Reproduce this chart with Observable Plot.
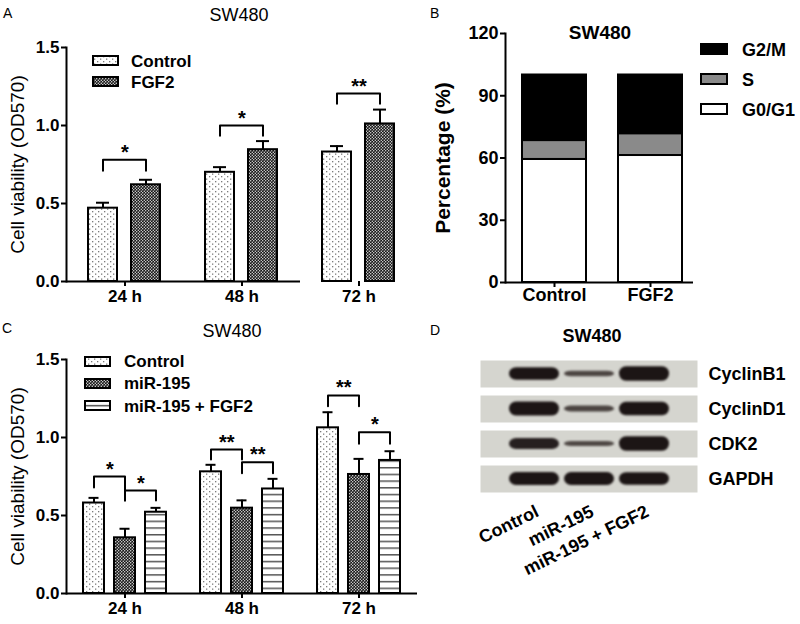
<!DOCTYPE html>
<html><head><meta charset="utf-8">
<script src="https://cdn.jsdelivr.net/npm/d3@7"></script>
<script src="https://cdn.jsdelivr.net/npm/@observablehq/plot@0.6"></script>
<style>
body{margin:0;background:#fff;}
#fig{position:relative;width:800px;height:624px;overflow:hidden;background:#fff;font-family:"Liberation Sans",Arial,Helvetica,sans-serif;}
#fig svg{overflow:visible;}
#pD g[aria-label="bar"] rect{filter:blur(1.1px);}
</style></head>
<body><div id="fig">
<svg width="0" height="0" style="position:absolute;left:0;top:0">
<defs>
<pattern id="pDots" patternUnits="userSpaceOnUse" width="6" height="5">
<rect width="6" height="5" fill="#fff"/>
<rect x="1" y="1" width="1.3" height="1.3" fill="#7a7a7a"/>
<rect x="4" y="3.5" width="1.3" height="1.3" fill="#7a7a7a"/>
</pattern>
<pattern id="pCheck" patternUnits="userSpaceOnUse" width="3" height="3">
<rect width="3" height="3" fill="#161616"/>
<circle cx="0.75" cy="0.75" r="0.65" fill="#fff"/>
<circle cx="2.25" cy="2.25" r="0.65" fill="#fff"/>
</pattern>
<pattern id="pLines" patternUnits="userSpaceOnUse" width="4" height="6.7">
<rect width="4" height="6.7" fill="#fff"/>
<rect x="0" y="3" width="4" height="1.3" fill="#3a3a3a"/>
</pattern>
</defs>
</svg>
</div>
<script>
// ---------- data ----------
const times = ["24 h", "48 h", "72 h"];

// Panel A
const groupsA = ["Control", "FGF2"];
const controlA = [0.47, 0.70, 0.83];
const controlAErr = [0.035, 0.033, 0.038];
const fgf2A = [0.62, 0.845, 1.01];
const fgf2AErr = [0.032, 0.055, 0.092];
const bracketTimeA = ["24 h", "48 h", "72 h"];
const bracketTopA = [0.78, 1.0, 1.205];
const bracketLegA = [0.71, 0.935, 1.14];
const bracketLabelA = ["*", "*", "**"];

// Panel B
const groupsB = ["Control", "FGF2"];
const phases = ["G0/G1", "S", "G2/M"];
const controlB = [59.3, 9.1, 31.6];
const fgf2B = [61.2, 10.5, 28.3];

// Panel C
const groupsC = ["Control", "miR-195", "miR-195 + FGF2"];
const controlC = [0.58, 0.78, 1.062];
const controlCErr = [0.033, 0.045, 0.10];
const mirC = [0.357, 0.547, 0.763];
const mirCErr = [0.058, 0.05, 0.10];
const mirFgfC = [0.521, 0.67, 0.853];
const mirFgfCErr = [0.028, 0.065, 0.059];
const bracketTimeC = ["24 h", "24 h", "48 h", "48 h", "72 h", "72 h"];
const bracketFromC = ["Control", "miR-195", "Control", "miR-195", "Control", "miR-195"];
const bracketToC = ["miR-195", "miR-195 + FGF2", "miR-195", "miR-195 + FGF2", "miR-195", "miR-195 + FGF2"];
const bracketTopC = [0.75, 0.66, 0.923, 0.842, 1.27, 1.034];
const bracketLeftLegC = [0.68, 0.596, 0.859, 0.771, 1.2, 0.96];
const bracketRightLegC = [0.596, 0.596, 0.859, 0.771, 1.2, 0.96];
const bracketLabelC = ["*", "*", "**", "**", "**", "*"];

// Panel D (western blot band signal, relative)
const proteins = ["CyclinB1", "CyclinD1", "CDK2", "GAPDH"];
const lanes = ["Control", "miR-195", "miR-195 + FGF2"];
const signalCyclinB1 = [0.92, 0.42, 1.08];
const signalCyclinD1 = [1.05, 0.44, 1.0];
const signalCDK2 = [0.8, 0.38, 1.07];
const signalGAPDH = [0.95, 0.95, 0.92];

// ---------- tables ----------
const FONT = '"Liberation Sans", Arial, Helvetica, sans-serif';
const rowsA = times.flatMap((t, i) => [
  {time: t, group: groupsA[0], mean: controlA[i], err: controlAErr[i]},
  {time: t, group: groupsA[1], mean: fgf2A[i], err: fgf2AErr[i]}
]);
const bracketsA = bracketTimeA.map((t, i) => ({id: i, time: t, from: "Control", to: "FGF2",
  top: bracketTopA[i], left: bracketLegA[i], right: bracketLegA[i], label: bracketLabelA[i]}));
const rowsB = groupsB.flatMap((g, gi) => phases.map((p, pi) => ({group: g, phase: p, value: (gi === 0 ? controlB : fgf2B)[pi]})));
const rowsC = times.flatMap((t, i) => [
  {time: t, group: groupsC[0], mean: controlC[i], err: controlCErr[i]},
  {time: t, group: groupsC[1], mean: mirC[i], err: mirCErr[i]},
  {time: t, group: groupsC[2], mean: mirFgfC[i], err: mirFgfCErr[i]}
]);
const bracketsC = bracketTimeC.map((t, i) => ({id: i, time: t, from: bracketFromC[i], to: bracketToC[i],
  top: bracketTopC[i], left: bracketLeftLegC[i], right: bracketRightLegC[i], label: bracketLabelC[i]}));
const signals = [signalCyclinB1, signalCyclinD1, signalCDK2, signalGAPDH];
const rowsD = proteins.flatMap((p, pi) => lanes.map((l, li) => ({protein: p, lane: l, signal: signals[pi][li]})));

function bracketPoints(brackets) {
  return brackets.flatMap(b => [
    {id: b.id, time: b.time, g: b.from, v: b.left},
    {id: b.id, time: b.time, g: b.from, v: b.top},
    {id: b.id, time: b.time, g: b.to, v: b.top},
    {id: b.id, time: b.time, g: b.to, v: b.right}
  ]);
}

const fig = document.getElementById("fig");
function place(node, left, top, id) {
  node.style.position = "absolute";
  node.style.left = left + "px";
  node.style.top = top + "px";
  if (id) node.id = id;
  fig.appendChild(node);
}

function barPanel({rows, groups, fills, brackets, height, marginTop, marginBottom, pIn, pOut, capInset, starDx, fullAxis}) {
  const lastTime = times[times.length - 1];
  const baseMarks = fullAxis
    ? [Plot.ruleY(times.map(t => ({time: t})), {fx: "time", y: () => 0, strokeWidth: 2})]
    : [Plot.ruleY(times.slice(0, -1).map(t => ({time: t})), {fx: "time", y: () => 0, strokeWidth: 2}),
       Plot.ruleY([{time: lastTime}], {fx: "time", y: () => 0, x2: () => groups[groups.length - 1], strokeWidth: 2})];
  return Plot.plot({
    width: 420, height, marginLeft: 65, marginRight: 3, marginTop, marginBottom,
    style: {background: "transparent", overflow: "visible", fontFamily: FONT},
    fx: {domain: times, padding: 0, label: null},
    x: {domain: groups, paddingInner: pIn, paddingOuter: pOut, axis: null},
    y: {domain: [0, 1.5], label: null},
    color: {domain: groups, range: fills},
    marks: [
      Plot.barY(rows, {fx: "time", x: "group", y: "mean", fill: "group", stroke: "black", strokeWidth: 2}),
      Plot.ruleX(rows, {fx: "time", x: "group", y1: "mean", y2: d => d.mean + d.err, strokeWidth: 2}),
      Plot.tickY(rows, {fx: "time", x: "group", y: d => d.mean + d.err, strokeWidth: 2, insetLeft: capInset, insetRight: capInset}),
      ...baseMarks,
      Plot.frame({anchor: "left", facetAnchor: "left", strokeWidth: 2}),
      Plot.line(bracketPoints(brackets), {fx: "time", x: "g", y: "v", z: "id", stroke: "black", strokeWidth: 2}),
      Plot.text(brackets, {fx: "time", x: "from", y: "top", text: "label", dx: starDx, dy: -1, lineAnchor: "bottom", fontSize: 20, fontWeight: "bold"}),
      Plot.axisY({ticks: [0, 0.5, 1, 1.5], tickFormat: d3.format(".1f"), tickSize: 5, tickPadding: 2, strokeWidth: 2, fontSize: 17, fontWeight: "bold", label: null}),
      Plot.axisFx({anchor: "bottom", tickSize: 5, tickPadding: 3, strokeWidth: 2, fontSize: 17, fontWeight: "bold", label: null}),
      Plot.text([{time: times[0]}], {fx: "time", text: () => "Cell viability (OD570)", frameAnchor: "left", textAnchor: "middle", rotate: -90, dx: -49, fontSize: 19})
    ]
  });
}

// Panel A
place(barPanel({rows: rowsA, groups: groupsA, fills: ["url(#pDots)", "url(#pCheck)"], brackets: bracketsA,
  height: 310, marginTop: 47, marginBottom: 29, pIn: 0.32, pOut: 0.5, capInset: 8, starDx: 22, fullAxis: false}), 0, 0, "pA");

// Panel C
place(barPanel({rows: rowsC, groups: groupsC, fills: ["url(#pDots)", "url(#pCheck)", "url(#pLines)"], brackets: bracketsC,
  height: 314, marginTop: 49, marginBottom: 31, pIn: 0.317, pOut: 0.52, capInset: 5.5, starDx: 15.8, fullAxis: true}), 0, 310, "pC");

// Panel B
place(Plot.plot({
  width: 400, height: 310, marginLeft: 105, marginRight: 107, marginTop: 33, marginBottom: 28,
  style: {background: "transparent", overflow: "visible", fontFamily: FONT},
  x: {domain: groupsB, paddingInner: 0.33, paddingOuter: 0.14, align: 0.6, label: null},
  y: {domain: [0, 120], label: null},
  color: {domain: phases, range: ["#ffffff", "#8a8a8a", "#000000"]},
  marks: [
    Plot.barY(rowsB, {x: "group", y: "value", fill: "phase", stroke: "black", strokeWidth: 2}),
    Plot.ruleY([0], {strokeWidth: 2}),
    Plot.frame({anchor: "left", strokeWidth: 2}),
    Plot.axisY({ticks: [0, 30, 60, 90, 120], tickSize: 5, tickPadding: 2, strokeWidth: 2, fontSize: 18, fontWeight: "bold", label: null}),
    Plot.axisX({tickSize: 5, tickPadding: 1, strokeWidth: 2, fontSize: 18, fontWeight: "bold", label: null}),
    Plot.text(["Percentage (%)"], {frameAnchor: "left", textAnchor: "middle", rotate: -90, dx: -62, fontSize: 21, fontWeight: "bold"})
  ]
}), 400, 0, "pB");

// Panel D
place(Plot.plot({
  width: 400, height: 314, marginLeft: 80, marginRight: 103, marginTop: 48, marginBottom: 130,
  style: {background: "transparent", overflow: "visible", fontFamily: FONT},
  fy: {domain: proteins, paddingInner: 0.22, paddingOuter: 0, label: null},
  x: {domain: lanes, paddingInner: 0.1, paddingOuter: 0.505, label: null},
  y: {domain: [-2, 2], axis: null},
  color: {type: "linear", domain: [0.4, 0.9], range: ["#4f4845", "#1c1515"], clamp: true},
  marks: [
    Plot.frame({fill: "#d5d5cf", stroke: "none"}),
    Plot.barY(rowsD, {fy: "protein", x: "lane", y1: d => -d.signal, y2: d => d.signal, fill: "signal", rx: 7}),
    Plot.axisFy({anchor: "right", tickSize: 0, tickPadding: 11, fontSize: 18, fontWeight: "bold", label: null}),
    Plot.axisX({anchor: "bottom", tickSize: 0, tickPadding: 18, tickRotate: -26, dx: 3, fontSize: 18, fontWeight: "bold", label: null})
  ]
}), 400, 310, "pD");

// ---------- overlay: panel letters, titles, legends ----------
const NS = "http://www.w3.org/2000/svg";
const ov = document.createElementNS(NS, "svg");
ov.setAttribute("width", 800); ov.setAttribute("height", 624);
ov.style.pointerEvents = "none";
ov.setAttribute("font-family", FONT);
place(ov, 0, 0);
function txt(s, x, y, size, weight, anchor) {
  const t = document.createElementNS(NS, "text");
  t.setAttribute("x", x); t.setAttribute("y", y);
  t.setAttribute("font-size", size);
  t.setAttribute("font-weight", weight || "normal");
  t.setAttribute("text-anchor", anchor || "start");
  t.textContent = s; ov.appendChild(t);
}
function swatch(x, y, w, h, fill) {
  const r = document.createElementNS(NS, "rect");
  r.setAttribute("x", x); r.setAttribute("y", y); r.setAttribute("width", w); r.setAttribute("height", h);
  r.setAttribute("fill", fill); r.setAttribute("stroke", "black"); r.setAttribute("stroke-width", 2);
  ov.appendChild(r);
}
txt("A", 3, 18, 14); txt("B", 430, 18, 14); txt("C", 2, 333, 14); txt("D", 430, 335, 14);
txt("SW480", 239, 21, 18, "normal", "middle");
txt("SW480", 232, 337, 18, "normal", "middle");
txt("SW480", 600, 39, 19, "bold", "middle");
txt("SW480", 592, 342, 18, "bold", "middle");
// legend A
const legA = ["url(#pDots)", "url(#pCheck)"];
groupsA.forEach((g, i) => { swatch(93, 56 + i * 21, 25, 9, legA[i]); txt(g, 131, 66.5 + i * 21, 17, "bold"); });
// legend C
const legC = ["url(#pDots)", "url(#pCheck)", "url(#pLines)"];
groupsC.forEach((g, i) => { swatch(85, 357 + i * 22, 25, 9, legC[i]); txt(g, 124, 366.5 + i * 22.5, 17, "bold"); });
// legend B (top to bottom G2/M, S, G0/G1)
const legB = [["G2/M", "#000000"], ["S", "#8a8a8a"], ["G0/G1", "#ffffff"]];
legB.forEach(([p, c], i) => { swatch(701, 44 + i * 30, 26, 10, c); txt(p, 742, 55.5 + i * 30, 18, "bold"); });
</script>
</body></html>
